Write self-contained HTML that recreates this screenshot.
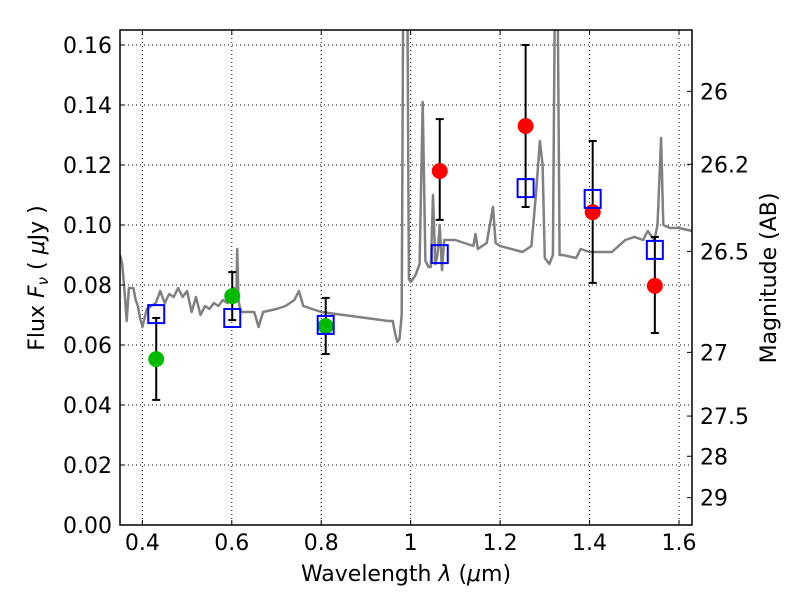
<!DOCTYPE html>
<html><head><meta charset="utf-8"><style>
body{margin:0;background:#fff}
svg text{font-family:"DejaVu Sans","Liberation Sans",sans-serif;fill:#000}
</style></head><body>
<svg id="c" width="800" height="600" xmlns="http://www.w3.org/2000/svg">
<defs><clipPath id="pc"><rect x="120" y="30" width="572" height="495"/></clipPath></defs>
<rect x="0" y="0" width="800" height="600" fill="#fff"/>
<g id="grid"></g>
<g id="plot" clip-path="url(#pc)"></g>
<rect x="120" y="30" width="572" height="495" fill="none" stroke="#000" stroke-width="1.5"/>
<g id="axes"></g>
<text x="406" y="581" font-size="22" text-anchor="middle">Wavelength  <tspan font-style="italic">λ</tspan> (<tspan font-style="italic">μ</tspan>m)</text>
<text transform="translate(44,278) rotate(-90)" font-size="22" text-anchor="middle">Flux  <tspan font-style="italic">F</tspan><tspan font-style="italic" font-size="15" dy="4">ν</tspan><tspan dy="-4">  ( </tspan><tspan font-style="italic">μ</tspan>Jy )</text>
<text transform="translate(776,278) rotate(-90)" font-size="22" text-anchor="middle">Magnitude (AB)</text>
</svg>
<script>
const specLam=[0.35,0.355,0.36,0.365,0.37,0.38,0.385,0.39,0.395,0.40,0.41,0.42,0.43,0.44,0.45,0.46,0.47,0.48,0.49,0.50,0.51,0.52,0.53,0.54,0.55,0.56,0.57,0.58,0.59,0.60,0.605,0.61,0.612,0.615,0.62,0.64,0.65,0.66,0.67,0.70,0.72,0.74,0.75,0.76,0.80,0.85,0.90,0.95,0.96,0.965,0.97,0.975,0.98,0.983,0.985,0.99,0.993,0.996,1.00,1.01,1.02,1.027,1.033,1.04,1.045,1.05,1.055,1.06,1.065,1.07,1.075,1.10,1.12,1.14,1.145,1.15,1.17,1.184,1.19,1.20,1.25,1.27,1.28,1.289,1.295,1.30,1.31,1.318,1.322,1.329,1.333,1.34,1.37,1.38,1.40,1.45,1.48,1.50,1.52,1.53,1.545,1.552,1.56,1.565,1.58,1.60,1.63];
const specFlux=[0.090,0.087,0.078,0.068,0.079,0.079,0.075,0.073,0.069,0.066,0.072,0.073,0.074,0.078,0.074,0.077,0.076,0.079,0.076,0.078,0.071,0.076,0.070,0.073,0.072,0.074,0.073,0.075,0.074,0.077,0.079,0.075,0.092,0.075,0.071,0.071,0.071,0.066,0.071,0.072,0.073,0.075,0.078,0.073,0.071,0.070,0.069,0.068,0.068,0.064,0.061,0.062,0.070,0.170,0.170,0.170,0.170,0.082,0.081,0.083,0.087,0.141,0.088,0.086,0.086,0.110,0.087,0.090,0.100,0.085,0.095,0.095,0.094,0.093,0.097,0.092,0.094,0.106,0.094,0.093,0.091,0.093,0.110,0.128,0.120,0.089,0.087,0.090,0.170,0.170,0.090,0.090,0.089,0.092,0.091,0.091,0.095,0.096,0.095,0.098,0.095,0.100,0.129,0.100,0.099,0.099,0.098];
const photLam=[0.431,0.601,0.810,1.065,1.257,1.407,1.546];
const photFlux=[0.0553,0.0763,0.0663,0.118,0.133,0.1043,0.0797];
const errLo=[0.0417,0.0683,0.057,0.1017,0.106,0.0807,0.064];
const errHi=[0.069,0.0843,0.0757,0.1353,0.160,0.128,0.096];
const modelFlux=[0.0703,0.069,0.0667,0.0903,0.1123,0.1087,0.0917];
const photColors=['#00bb00','#00bb00','#00bb00','#ff0000','#ff0000','#ff0000','#ff0000'];
const xTicks=[0.4,0.6,0.8,1.0,1.2,1.4,1.6];
const xTickLabels=['0.4','0.6','0.8','1','1.2','1.4','1.6'];
const yTicks=[0,0.02,0.04,0.06,0.08,0.10,0.12,0.14,0.16];
const yTickLabels=['0.00','0.02','0.04','0.06','0.08','0.10','0.12','0.14','0.16'];
const magTicks=[26,26.2,26.5,27,27.5,28,29];
const magTickLabels=['26','26.2','26.5','27','27.5','28','29'];

const X0=120,X1=692,Y0=525,Y1=30,XMIN=0.35,XMAX=0.4+(692-143)/446.67,YMIN=0,YMAX=0.165;
const sx=v=>X0+(v-XMIN)/(XMAX-XMIN)*(X1-X0);
const sy=v=>Y0-(v-YMIN)/(YMAX-YMIN)*(Y0-Y1);
const mag2flux=m=>Math.pow(10,(23.9-m)/2.5);
const NS='http://www.w3.org/2000/svg';
function mk(tag,attrs,parent){const e=document.createElementNS(NS,tag);for(const k in attrs)e.setAttribute(k,attrs[k]);parent.appendChild(e);return e;}
const grid=document.getElementById('grid'),plot=document.getElementById('plot'),axes=document.getElementById('axes');

xTicks.forEach((t,i)=>{const x=sx(t);
 const g=mk('line',{x1:x,x2:x,y1:Y1,y2:Y0,stroke:'#000','stroke-width':1,'stroke-dasharray':'1,3'},grid);
 
 
 mk('line',{x1:x,x2:x,y1:Y0,y2:Y0-5,stroke:'#000'},axes);
 mk('line',{x1:x,x2:x,y1:Y1,y2:Y1+5,stroke:'#000'},axes);
 const tx=mk('text',{x:x,y:Y0+25,'font-size':22,'text-anchor':'middle'},axes);tx.textContent=xTickLabels[i];
 
 
});
yTicks.forEach((t,i)=>{const y=sy(t);
 const g=mk('line',{x1:X0,x2:X1,y1:y,y2:y,stroke:'#000','stroke-width':1,'stroke-dasharray':'1,3'},grid);
 
 
 mk('line',{x1:X0,x2:X0+5,y1:y,y2:y,stroke:'#000'},axes);
 const tx=mk('text',{x:X0-8,y:y+8,'font-size':22,'text-anchor':'end'},axes);tx.textContent=yTickLabels[i];
 
 
});
magTicks.forEach((m,i)=>{const y=sy(mag2flux(m));
 mk('line',{x1:X1,x2:X1-5,y1:y,y2:y,stroke:'#000'},axes);
 const tx=mk('text',{x:X1+8,y:y+8,'font-size':22,'text-anchor':'start'},axes);tx.textContent=magTickLabels[i];
 
 
});

let d='';specLam.forEach((l,i)=>{d+=(i?'L':'M')+sx(l).toFixed(1)+','+sy(specFlux[i]).toFixed(1);});
const sp=mk('path',{d:d,fill:'none',stroke:'#808080','stroke-width':2.5,'stroke-linejoin':'round'},plot);



photLam.forEach((l,i)=>{const x=sx(l);
 const eb=mk('g',{stroke:'#000','stroke-width':2},plot);
 
 
 mk('line',{x1:x,x2:x,y1:sy(errLo[i]),y2:sy(errHi[i])},eb);
 mk('line',{x1:x-4,x2:x+4,y1:sy(errLo[i]),y2:sy(errLo[i])},eb);
 mk('line',{x1:x-4,x2:x+4,y1:sy(errHi[i]),y2:sy(errHi[i])},eb);
 const c=mk('circle',{cx:x,cy:sy(photFlux[i]),r:8,fill:photColors[i]},plot);
 
 
 const s=mk('rect',{x:x-8,y:sy(modelFlux[i])-9,width:16,height:18,fill:'none',stroke:'#0000ff','stroke-width':2},plot);
 
 
});
</script>
</body></html>
